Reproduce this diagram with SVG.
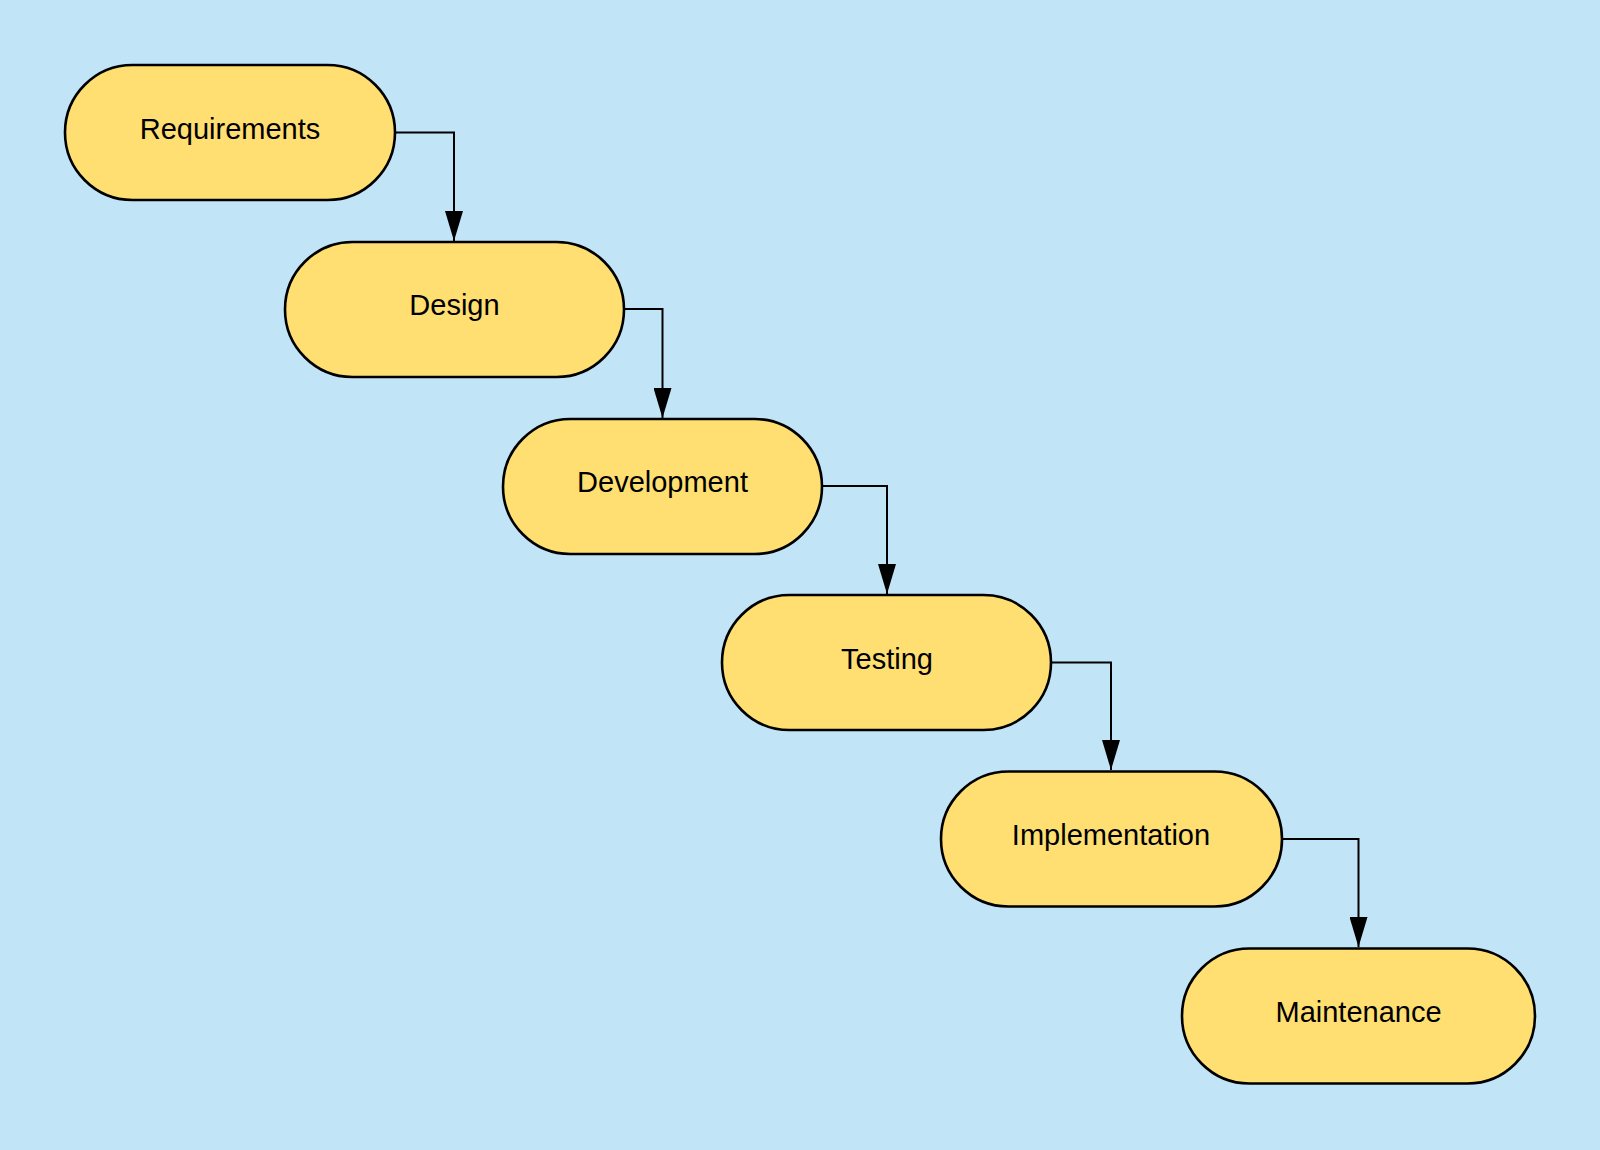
<svg xmlns="http://www.w3.org/2000/svg" width="1600" height="1150" viewBox="0 0 1600 1150">
<defs>
<style>
.node rect{fill:#FFDF71;stroke:#000;stroke-width:2.6}
.node text{font-family:"Liberation Sans",Arial,sans-serif;font-size:29px;fill:#000;text-anchor:middle}
.conn path{fill:none;stroke:#000;stroke-width:2}
</style>
<marker id="ah" viewBox="0 0 30 18" refX="30" refY="9" markerWidth="30" markerHeight="18" markerUnits="userSpaceOnUse" orient="auto">
<path d="M0,0 L30,9 L0,18 Z" fill="#000"/>
</marker>
</defs>
<rect width="1600" height="1150" fill="#C1E4F7"/>
<g id="connectors" class="conn">
<path d="M395,132.5 H454 V241" marker-end="url(#ah)"/>
<path d="M624,309 H662.5 V418" marker-end="url(#ah)"/>
<path d="M822,486 H887 V594" marker-end="url(#ah)"/>
<path d="M1051,662.5 H1111 V770" marker-end="url(#ah)"/>
<path d="M1282,839 H1358.5 V947" marker-end="url(#ah)"/>
</g>
<g id="requirements" class="node">
<rect x="65" y="65" width="330" height="135" rx="67.5"/>
<text x="230" y="139">Requirements</text>
</g>
<g id="design" class="node">
<rect x="285" y="242" width="339" height="135" rx="67.5"/>
<text x="454.5" y="315">Design</text>
</g>
<g id="development" class="node">
<rect x="503" y="419" width="319" height="135" rx="67.5"/>
<text x="662.5" y="492">Development</text>
</g>
<g id="testing" class="node">
<rect x="722" y="595" width="329" height="135" rx="67.5"/>
<text x="887" y="668.5">Testing</text>
</g>
<g id="implementation" class="node">
<rect x="941" y="771.5" width="341" height="135" rx="67.5"/>
<text x="1111" y="845">Implementation</text>
</g>
<g id="maintenance" class="node">
<rect x="1182" y="948.5" width="353" height="135" rx="67.5"/>
<text x="1358.5" y="1022">Maintenance</text>
</g>
</svg>
